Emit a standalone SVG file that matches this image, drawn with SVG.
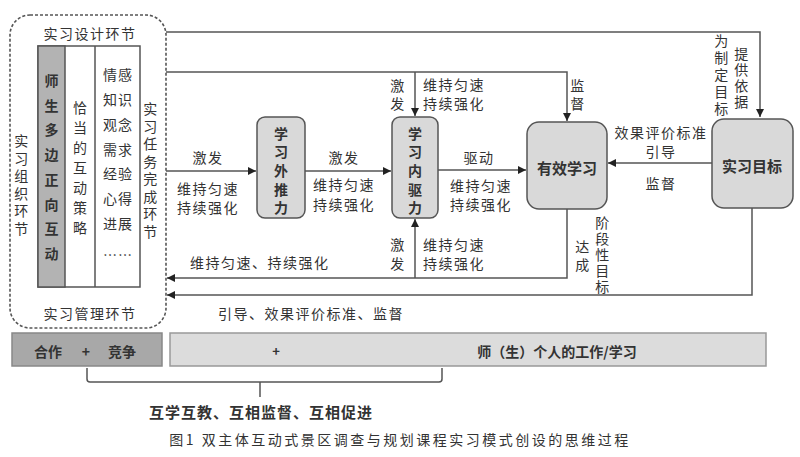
<svg xmlns="http://www.w3.org/2000/svg" width="800" height="457" viewBox="0 0 800 457">
<defs>
<marker id="arr" viewBox="0 0 10 10" refX="10" refY="5" markerWidth="9" markerHeight="8" markerUnits="userSpaceOnUse" orient="auto">
<path d="M0,0 L10,5 L0,10 z" fill="#222"/>
</marker>
<style>
text{font-family:"Noto Sans CJK SC","Noto Sans",sans-serif;fill:#333;dominant-baseline:central;text-anchor:middle;}
.l{font-size:14px;letter-spacing:1.5px;}
.s{text-anchor:start;}
.b{font-weight:bold;}
.c{fill:none;stroke:#555;stroke-width:1.5;}
.node{fill:#d9d9d9;stroke:#555;stroke-width:1.5;}
</style>
</defs>
<rect width="800" height="457" fill="#fff"/>

<g id="organization">
<rect x="10" y="15" width="156" height="313" rx="20" fill="none" stroke="#555" stroke-width="1.6" stroke-dasharray="3 2"/>
<text class="l" x="90" y="33">实习设计环节</text>
<text class="l" x="90" y="313">实习管理环节</text>
<text class="l"><tspan x="22" y="140">实</tspan><tspan x="22" y="157.5">习</tspan><tspan x="22" y="175">组</tspan><tspan x="22" y="192.5">织</tspan><tspan x="22" y="210">环</tspan><tspan x="22" y="227.5">节</tspan></text>
<text class="l"><tspan x="151" y="108">实</tspan><tspan x="151" y="125.5">习</tspan><tspan x="151" y="143">任</tspan><tspan x="151" y="160.5">务</tspan><tspan x="151" y="178">完</tspan><tspan x="151" y="195.5">成</tspan><tspan x="151" y="213">环</tspan><tspan x="151" y="230.5">节</tspan></text>
<rect x="38" y="46" width="102" height="241" fill="#fff" stroke="#555" stroke-width="1.5"/>
<rect x="38" y="46" width="27" height="241" fill="#b3b3b3" stroke="#555" stroke-width="1.5"/>
<line x1="95" y1="46" x2="95" y2="287" stroke="#555" stroke-width="1.5"/>
<text class="b" font-size="14"><tspan x="51.5" y="80">师</tspan><tspan x="51.5" y="104.7">生</tspan><tspan x="51.5" y="129.4">多</tspan><tspan x="51.5" y="154.1">边</tspan><tspan x="51.5" y="178.8">正</tspan><tspan x="51.5" y="203.5">向</tspan><tspan x="51.5" y="228.2">互</tspan><tspan x="51.5" y="252.9">动</tspan></text>
<text font-size="14"><tspan x="80" y="107">恰</tspan><tspan x="80" y="127">当</tspan><tspan x="80" y="147">的</tspan><tspan x="80" y="167">互</tspan><tspan x="80" y="187">动</tspan><tspan x="80" y="207">策</tspan><tspan x="80" y="227">略</tspan></text>
<text font-size="14" letter-spacing="1"><tspan x="118" y="74">情感</tspan><tspan x="118" y="99">知识</tspan><tspan x="118" y="124">观念</tspan><tspan x="118" y="149">需求</tspan><tspan x="118" y="173">经验</tspan><tspan x="118" y="198">心得</tspan><tspan x="118" y="223">进展</tspan><tspan x="118" y="254">……</tspan></text>
</g>

<g id="connectors">
<path class="c" d="M166,32 H760 V117" marker-end="url(#arr)"/>
<path class="c" d="M166,72 H567 V121" marker-end="url(#arr)"/>
<path class="c" d="M415,72 V116" marker-end="url(#arr)"/>
<path class="c" d="M166,171 H256" marker-end="url(#arr)"/>
<path class="c" d="M305,171 H391" marker-end="url(#arr)"/>
<path class="c" d="M438,170 H526" marker-end="url(#arr)"/>
<path class="c" d="M712,163 H608" marker-end="url(#arr)"/>
<path class="c" d="M567,209 V278 H167" marker-end="url(#arr)"/>
<path class="c" d="M415,278 V219" marker-end="url(#arr)"/>
<path class="c" d="M752,208 V295 H167" marker-end="url(#arr)"/>
</g>

<g id="labels">
<text class="l"><tspan x="722" y="40">为</tspan><tspan x="722" y="57">制</tspan><tspan x="722" y="74">定</tspan><tspan x="722" y="91">目</tspan><tspan x="722" y="108">标</tspan></text>
<text class="l"><tspan x="742" y="53">提</tspan><tspan x="742" y="69">供</tspan><tspan x="742" y="85">依</tspan><tspan x="742" y="101">据</tspan></text>
<text class="l"><tspan x="398" y="85">激</tspan><tspan x="398" y="103">发</tspan></text>
<text class="l s" x="423" y="84">维持匀速</text>
<text class="l s" x="423" y="103">持续强化</text>
<text class="l"><tspan x="578" y="85">监</tspan><tspan x="578" y="103">督</tspan></text>
<text class="l" x="208" y="157">激发</text>
<text class="l" x="208" y="188">维持匀速</text>
<text class="l" x="208" y="207">持续强化</text>
<text class="l" x="344" y="157">激发</text>
<text class="l" x="344" y="184">维持匀速</text>
<text class="l" x="344" y="204">持续强化</text>
<text class="l" x="479" y="157">驱动</text>
<text class="l" x="481" y="185">维持匀速</text>
<text class="l" x="481" y="204">持续强化</text>
<text class="l" x="661" y="132">效果评价标准</text>
<text class="l" x="661" y="151">引导</text>
<text class="l" x="661" y="183">监督</text>
<text class="l"><tspan x="398" y="244">激</tspan><tspan x="398" y="263">发</tspan></text>
<text class="l s" x="423" y="244">维持匀速</text>
<text class="l s" x="423" y="263">持续强化</text>
<text class="l s" x="190" y="262">维持匀速、持续强化</text>
<text class="l"><tspan x="583" y="246">达</tspan><tspan x="583" y="264">成</tspan></text>
<text class="l"><tspan x="603" y="222">阶</tspan><tspan x="603" y="238">段</tspan><tspan x="603" y="254">性</tspan><tspan x="603" y="270">目</tspan><tspan x="603" y="286">标</tspan></text>
<text class="l s" x="218" y="313">引导、效果评价标准、监督</text>
</g>

<g id="push">
<rect class="node" x="257" y="117" width="48" height="101" rx="8"/>
<text class="b" font-size="14"><tspan x="281" y="133">学</tspan><tspan x="281" y="151">习</tspan><tspan x="281" y="170">外</tspan><tspan x="281" y="189">推</tspan><tspan x="281" y="207">力</tspan></text>
</g>
<g id="drive">
<rect class="node" x="392" y="117" width="46" height="101" rx="8"/>
<text class="b" font-size="14"><tspan x="415" y="133">学</tspan><tspan x="415" y="151">习</tspan><tspan x="415" y="170">内</tspan><tspan x="415" y="189">驱</tspan><tspan x="415" y="207">力</tspan></text>
</g>
<g id="effective">
<rect class="node" x="527" y="122" width="80" height="87" rx="12"/>
<text class="b" font-size="15" x="567" y="167">有效学习</text>
</g>
<g id="goal">
<rect class="node" x="712" y="119" width="81" height="89" rx="12"/>
<text class="b" font-size="15" x="752" y="165">实习目标</text>
</g>

<g id="bottom">
<rect x="12" y="333" width="150" height="33" fill="#a8a8a8" stroke="#888" stroke-width="1.5"/>
<text class="b" font-size="14" x="48" y="351">合作</text>
<text class="b" font-size="14" x="86" y="351">+</text>
<text class="b" font-size="14" x="122" y="351">竞争</text>
<rect x="170" y="333" width="596" height="33" fill="#dcdcdc" stroke="#999" stroke-width="1.5"/>
<text class="b" font-size="13" x="276" y="350">+</text>
<text class="b" font-size="14" x="557" y="351">师（生）个人的工作/学习</text>
<path d="M87,368 V379 Q87,382 90,382 H439 Q442,382 442,379 V368 M260,382 V397" fill="none" stroke="#555" stroke-width="1.5"/>
<text class="b" font-size="15" x="261" y="411" letter-spacing="1">互学互教、互相监督、互相促进</text>
<text font-size="14" x="400" y="439" letter-spacing="2.5">图1  双主体互动式景区调查与规划课程实习模式创设的思维过程</text>
</g>
</svg>
